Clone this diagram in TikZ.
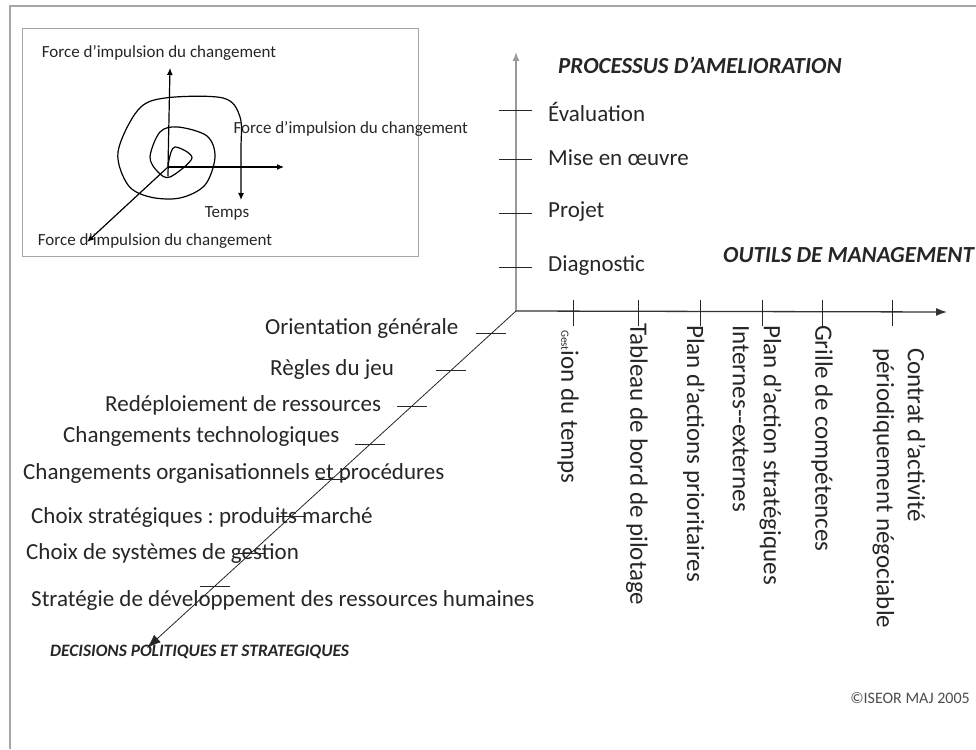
\documentclass[tikz,border=0pt]{standalone}
\usepackage{fontspec}
\setmainfont{Carlito}
\usetikzlibrary{calc,arrows.meta}
\frenchspacing
\tikzset{
  lbl/.style={inner sep=0pt,text=black!85},
  rlbl/.style={lbl,rotate=-90,anchor=west,align=left,font=\fontsize{25}{31}\selectfont},
  titre/.style={lbl,font=\fontsize{23}{26}\selectfont\bfseries\itshape},
}
\begin{document}
\begin{tikzpicture}[x=1pt,y=-1pt,font=\fontsize{23}{30}\selectfont]
\useasboundingbox (0,0) rectangle (976,749);
\draw[gray!70,line width=1.5pt] (10,749) -- (10,6) -- (976,6);

% petit schema
\begin{scope}[font=\fontsize{17}{19}\selectfont,line width=1.2pt]
\draw[gray!70,line width=1pt] (22,29) rectangle (418,256);
\coordinate (s) at (168,167);
\coordinate (s1) at (170,68);
\coordinate (s2) at (284,167);
\coordinate (s3) at (87,242);
\draw[-{Latex[length=7pt,width=6pt]}] (s) -- (s1);
\draw[-{Latex[length=7pt,width=6pt]}] (s) -- (s2);
\draw[-{Latex[length=7pt,width=6pt]}] (s) -- (s3);
\draw[-{Latex[length=7pt,width=6pt]}] plot[smooth,tension=0.55] coordinates {
  (168,176) (169,160) (175,147) (192,158) (170,177) (158,172)
  (150,157) (160,132) (178,127) (207,136) (215,157) (205,185) (180,198)
  (150,197) (128,185) (118,152) (138,110) (165,98) (223,98) (240,117)
  (241,150) (241,200)};
\node[lbl] (f1) at (159,53) {Force d’impulsion du changement};
\node[lbl,anchor=west] (f2) at (233,129) {Force d’impulsion du changement};
\node[lbl] (tps) at (227,213) {Temps};
\node[lbl] (f3) at (155,241) {Force d’impulsion du changement};
\end{scope}

% axes
\coordinate (o) at (516,311);
\coordinate (h) at (516,52);
\coordinate (r) at (947,312);
\coordinate (d) at (147,648);
\draw[gray!80,line width=1.5pt,-{Latex[length=9pt,width=7pt]}] (o) -- (h);
\draw[black!80,line width=1.3pt,-{Latex[length=11pt,width=8pt]}] (o) -- (r);
\draw[black!85,line width=0.8pt,-{Latex[length=14pt,width=10pt]}] (o) -- (d);

% processus
\foreach \y in {110,159,213,267}
  \draw[black!85,line width=0.9pt] (499,\y) -- (532,\y);
\node[titre,anchor=west] (proc) at (558,65) {PROCESSUS D'AMELIORATION};
\node[lbl,anchor=west] (eval) at (548,112) {Évaluation};
\node[lbl,anchor=west] (mise) at (548,158) {Mise en œuvre};
\node[lbl,anchor=west] (proj) at (548,212) {Projet};
\node[lbl,anchor=west] (diag) at (548,266) {Diagnostic};

% outils
\node[titre,anchor=west] (outils) at (723,255) {OUTILS DE MANAGEMENT};
\foreach \x in {573,638,700,762,822,892}
  \draw[black!85,line width=0.9pt] (\x,300) -- (\x,326);
\node[rlbl] (o1) at (568,330) {{\fontsize{11}{11}\selectfont Gest}ion du temps};
\node[rlbl] (o2) at (637,323) {Tableau de bord de pilotage};
\node[rlbl] (o3) at (694,325) {Plan d'actions prioritaires};
\node[rlbl] (o4) at (757,325) {Plan d'action stratégiques\\Internes-{}-externes};
\node[rlbl] (o5) at (822,325) {Grille de compétences};
\node[rlbl] (o6) at (899,348) {Contrat d'activité\\périodiquement négociable};

% decisions
\foreach \t in {0.068,0.175,0.282,0.395,0.501,0.611,0.718,0.816}
  \draw[black!85,line width=0.9pt] ($(o)!\t!(d)$) ++(-15,0) -- ++(30,0);
\node[lbl,anchor=west] (d1) at (265,328) {Orientation générale};
\node[lbl,anchor=west] (d2) at (270,369) {Règles du jeu};
\node[lbl,anchor=west] (d3) at (105,405) {Redéploiement de ressources};
\node[lbl,anchor=west] (d4) at (63,436) {Changements technologiques};
\node[lbl,anchor=west] (d5) at (23,473) {Changements organisationnels et procédures};
\node[lbl,anchor=west] (d6) at (31,517) {Choix stratégiques : produits marché};
\node[lbl,anchor=west] (d7) at (26,553) {Choix de systèmes de gestion};
\node[lbl,anchor=west] (d8) at (31,600) {Stratégie de développement des ressources humaines};
\node[titre,anchor=west,font=\fontsize{17.4}{20}\selectfont\bfseries\itshape] (dec) at (50,652) {DECISIONS POLITIQUES ET STRATEGIQUES};

\node[lbl,anchor=east,text=black!70,font=\fontsize{16}{18}\selectfont] (copy) at (970,698) {©ISEOR MAJ 2005};
\end{tikzpicture}
\end{document}
